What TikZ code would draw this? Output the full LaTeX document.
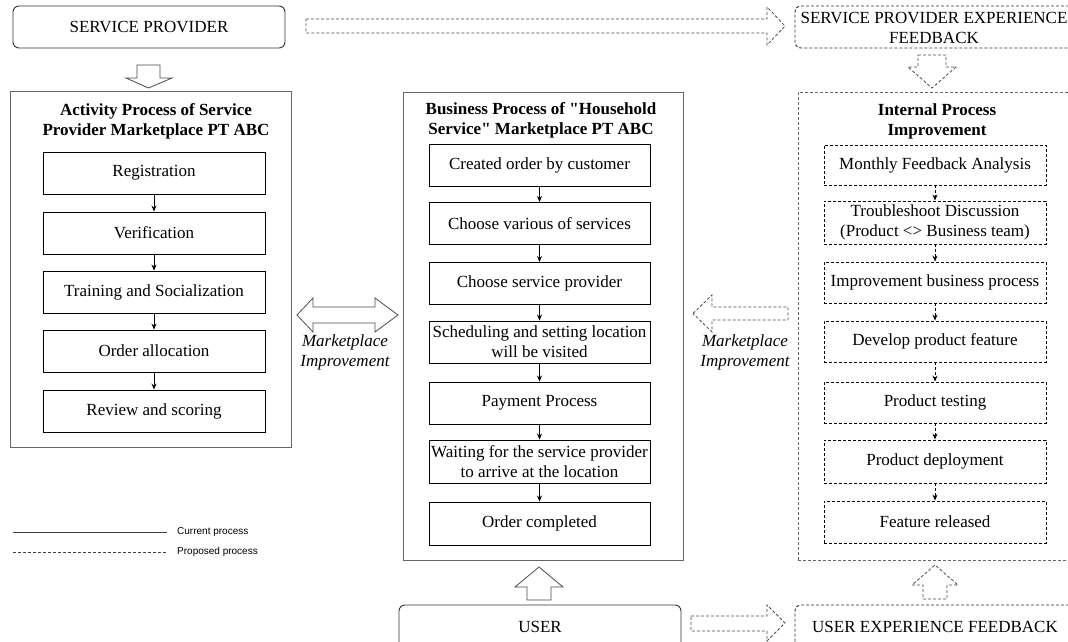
\documentclass[tikz,border=0pt]{standalone}
\usepackage{fontspec}
\setmainfont{Liberation Serif}[Ligatures=TeXOff]
\newfontfamily\legendfont{Liberation Sans}
\usetikzlibrary{arrows.meta}

\tikzset{
  txt/.style={font=\fontsize{17}{20}\selectfont, align=center, inner sep=0pt},
  ttl/.style={font=\fontsize{17}{20}\selectfont\bfseries, align=center, inner sep=0pt},
  lbl/.style={font=\fontsize{17}{20}\selectfont\itshape, align=center, inner sep=0pt},
  proposed/.style={dash pattern=on 3pt off 2pt},
  procbox/.style={txt, draw=black, line width=0.9pt, minimum width=222pt, minimum height=42pt},
  propbox/.style={procbox, proposed},
  panel/.style={draw=black!60, line width=1pt, inner sep=0pt},
  endbox/.style={txt, draw=black!80, line width=0.9pt, rounded corners=6pt},
  flow/.style={-{Stealth[length=6pt,width=5pt]}, line width=0.8pt},
  blockarrow/.style={draw=black!70, line width=0.8pt, fill=white, line join=miter},
  legend/.style={font=\legendfont\fontsize{10}{12}\selectfont, inner sep=0pt, anchor=west}
}

\begin{document}
\begin{tikzpicture}[x=1pt, y=-1pt]
\useasboundingbox (0,0) rectangle (1068,642);
\clip (0,0) rectangle (1068,642);

% ---------- actors and feedback sources ----------
\node[endbox, minimum width=272pt, minimum height=42pt] (sp) at (149,27) {SERVICE PROVIDER};
\node[endbox, proposed, minimum width=280pt, minimum height=42pt] (spf) at (935,27) {};
\node[txt] (spft) at (934,28) {SERVICE PROVIDER EXPERIENCE\\FEEDBACK};
\node[endbox, minimum width=282pt, minimum height=48pt] (user) at (540,629) {};
\node[txt] (usert) at (540,627) {USER};
\node[endbox, proposed, minimum width=280pt, minimum height=48pt] (uef) at (935,629) {};
\node[txt] (ueft) at (935,627) {USER EXPERIENCE FEEDBACK};

% ---------- left panel: service provider activities ----------
\node[panel, minimum width=281pt, minimum height=356pt] (lp) at (150.5,269) {};
\node[ttl] (lpt) at (156,121) {Activity Process of Service\\Provider Marketplace PT ABC};
\node[procbox] (r1) at (154,173) {Registration};
\node[procbox] (r2) at (154,233) {Verification};
\node[procbox] (r3) at (154,292) {Training and Socialization};
\node[procbox] (r4) at (154,351) {Order allocation};
\node[procbox] (r5) at (154,411) {Review and scoring};
\foreach \a/\b in {r1/r2,r2/r3,r3/r4,r4/r5} \draw[flow] (\a) -- (\b);

% ---------- middle panel: household service business process ----------
\node[panel, minimum width=280pt, minimum height=468pt] (mp) at (543,326) {};
\node[ttl] (mpt) at (541,120) {Business Process of "Household\\Service" Marketplace PT ABC};
\node[procbox, minimum width=221pt] (m1) at (539.5,165.5) {Created order by customer};
\node[procbox, minimum width=221pt] (m2) at (539.5,223.5) {Choose various of services};
\node[procbox, minimum width=221pt] (m3) at (539.5,283.5) {Choose service provider};
\node[procbox, minimum width=221pt] (m4) at (539.5,342) {Scheduling and setting location\\will be visited};
\node[procbox, minimum width=221pt] (m5) at (539.5,403) {Payment Process};
\node[procbox, minimum width=221pt, minimum height=43pt] (m6) at (539.5,461.5) {Waiting for the service provider\\to arrive at the location};
\node[procbox, minimum width=221pt, minimum height=43pt] (m7) at (539.5,523.5) {Order completed};
\foreach \a/\b in {m1/m2,m2/m3,m3/m4,m4/m5,m5/m6,m6/m7} \draw[flow] (\a) -- (\b);

% ---------- right panel: proposed internal improvement ----------
\node[panel, proposed, minimum width=281pt, minimum height=468pt] (rp) at (938.5,326) {};
\node[ttl] (rpt) at (937,121) {Internal Process\\Improvement};
\node[propbox, minimum height=40pt] (f1) at (935,165) {Monthly Feedback Analysis};
\node[propbox, minimum height=43pt] (f2) at (935,222.5) {Troubleshoot Discussion\\(Product <> Business team)};
\node[propbox, minimum height=41pt] (f3) at (935,282.5) {Improvement business process};
\node[propbox, minimum height=41pt] (f4) at (935,341.5) {Develop product feature};
\node[propbox, minimum height=41pt] (f5) at (935,402.5) {Product testing};
\node[propbox, minimum height=43pt] (f6) at (935,461.5) {Product deployment};
\node[propbox, minimum height=42pt] (f7) at (935,522) {Feature released};
\foreach \a/\b in {f1/f2,f2/f3,f3/f4,f4/f5,f5/f6,f6/f7} \draw[flow, proposed] (\a) -- (\b);

% ---------- block arrows ----------
% service provider into the activity panel
\draw[blockarrow] (137,65) -- (160,65) -- (160,78) -- (172,78) -- (148.5,88)
  -- (126,78) -- (137,78) -- cycle;
% user into the business process panel
\draw[blockarrow] (527,600) -- (551,600) -- (551,587) -- (563,587) -- (539,567)
  -- (515,587) -- (527,587) -- cycle;
% two-way marketplace improvement
\draw[blockarrow] (297,315) -- (313,298) -- (313,307) -- (375,307) -- (375,298)
  -- (398,315) -- (375,332) -- (375,323) -- (313,323) -- (313,332) -- cycle;
\node[lbl] (ml1) at (345,352) {Marketplace\\Improvement};
% proposed: service provider to experience feedback
\draw[blockarrow, proposed] (306,19) -- (767,19) -- (767,7) -- (785,26)
  -- (767,45) -- (767,33) -- (306,33) -- cycle;
% proposed: feedback into internal improvement
\draw[blockarrow, proposed] (918,55) -- (946,55) -- (946,67) -- (956,67) -- (932,88)
  -- (908,67) -- (918,67) -- cycle;
% proposed: user to user experience feedback
\draw[blockarrow, proposed] (691,616) -- (767,616) -- (767,605) -- (785,623)
  -- (767,641) -- (767,631) -- (691,631) -- cycle;
% proposed: user experience feedback into internal improvement
\draw[blockarrow, proposed] (923,599) -- (947,599) -- (947,585) -- (958,585) -- (935,565)
  -- (912,585) -- (923,585) -- cycle;
% proposed: internal improvement back to the marketplace
\draw[blockarrow, proposed] (693,313.5) -- (712,295) -- (712,307) -- (788,307)
  -- (788,320) -- (712,320) -- (712,332) -- cycle;
\node[lbl] (ml2) at (745,352) {Marketplace\\Improvement};

% ---------- legend ----------
\coordinate (cs) at (13,532);
\coordinate (ce) at (167,532);
\coordinate (ps) at (13,552);
\coordinate (pe) at (167,552);
\draw[black!75, line width=0.8pt] (cs) -- (ce);
\draw[black!75, line width=0.8pt, proposed] (ps) -- (pe);
\node[legend] (cl) at (177,532) {Current process};
\node[legend] (pl) at (177,552) {Proposed process};
\end{tikzpicture}
\end{document}
